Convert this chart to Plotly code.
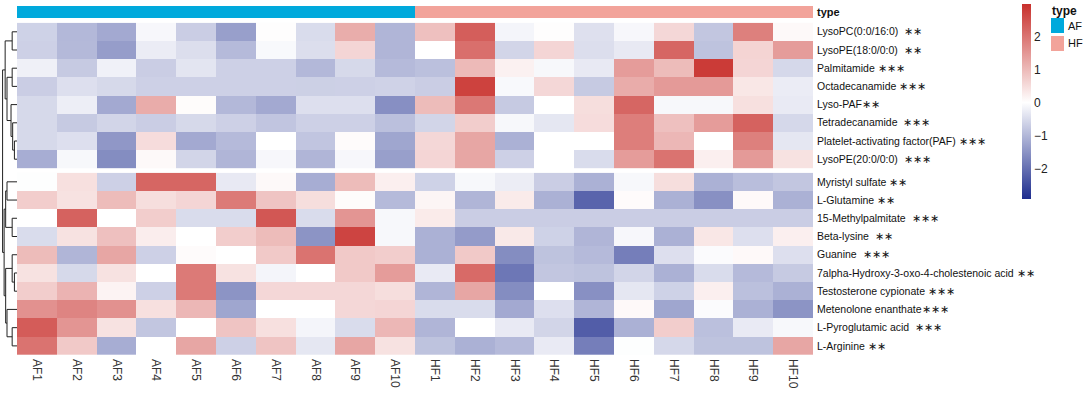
import plotly.graph_objects as go

W, H = 1084, 394

samples = ["AF1", "AF2", "AF3", "AF4", "AF5", "AF6", "AF7", "AF8", "AF9", "AF10",
           "HF1", "HF2", "HF3", "HF4", "HF5", "HF6", "HF7", "HF8", "HF9", "HF10"]
sample_type = ["AF"] * 10 + ["HF"] * 10

NB = "\u00a0"
labels_group1 = [
    "LysoPC(0:0/16:0)" + NB * 2 + "∗∗",
    "LysoPE(18:0/0:0)" + NB * 2 + "∗∗",
    "Palmitamide" + NB + "∗∗∗",
    "Octadecanamide" + NB + "∗∗∗",
    "Lyso-PAF∗∗",
    "Tetradecanamide" + NB * 2 + "∗∗∗",
    "Platelet-activating factor(PAF)" + NB + "∗∗∗",
    "LysoPE(20:0/0:0)" + NB * 2 + "∗∗∗",
]
labels_group2 = [
    "Myristyl sulfate" + NB + "∗∗",
    "L-Glutamine" + NB + "∗∗",
    "15-Methylpalmitate" + NB * 2 + "∗∗∗",
    "Beta-lysine" + NB * 2 + "∗∗",
    "Guanine" + NB * 2 + "∗∗∗",
    "7alpha-Hydroxy-3-oxo-4-cholestenoic acid" + NB + "∗∗",
    "Testosterone cypionate" + NB + "∗∗∗",
    "Metenolone enanthate∗∗∗",
    "L-Pyroglutamic acid" + NB * 2 + "∗∗∗",
    "L-Arginine" + NB + "∗∗",
]

# z-scores, rows x samples (AF1..AF10, HF1..HF10)
z_group1 = [
    [-0.63, -0.99, -1.19, -0.11, -0.69, -1.34, 0.03, -0.49, 1.18, -1.03,
     0.91, 2.32, -0.14, 0.03, -0.43, -0.11, 0.57, -0.79, 1.83, 0.09],
    [-0.65, -0.97, -1.36, -0.26, -0.46, -0.96, -0.09, -0.46, 0.60, -1.03,
     0.00, 2.08, -0.59, 0.60, -0.46, -0.30, 2.20, -0.84, 0.62, 1.43],
    [-0.21, -0.74, -0.19, -0.69, -0.36, -0.65, -0.65, -0.99, -0.53, -0.96,
     -0.88, 1.00, 0.20, -0.10, -0.30, 1.43, 0.97, 2.82, 0.60, -0.54],
    [-0.69, -0.44, -0.53, -0.65, -0.65, -0.65, -0.65, -0.66, -0.65, -0.62,
     -0.69, 2.72, -0.09, 0.57, -0.74, 1.20, 1.46, 1.46, 0.35, -0.26],
    [-0.53, -0.23, -1.19, 1.20, 0.05, -0.99, -1.19, -0.44, -0.44, -1.56,
     0.97, 1.95, -0.74, 0.00, 0.48, 2.20, -0.10, -0.10, 0.45, -0.29],
    [-0.53, -0.74, -0.59, -0.69, -0.53, -0.65, -0.80, -0.65, -0.65, -0.88,
     -0.59, 0.72, -0.10, -0.34, 0.50, 1.86, 0.91, 1.43, 2.26, -0.54],
    [-0.53, -0.44, -1.44, 0.50, -1.19, -0.96, 0.00, -0.80, 0.06, -1.24,
     0.57, 1.28, -1.09, 0.00, 0.00, 1.86, 1.03, 0.00, 1.83, -0.34],
    [-1.14, -0.10, -1.59, 0.09, -0.59, -1.03, -0.11, -1.03, -0.11, -1.34,
     0.60, 1.28, -0.65, 0.00, -0.49, 1.43, 2.02, 0.23, 1.46, 0.42],
]
z_group2 = [
    [-0.02, 0.45, -0.65, 2.20, 2.20, -0.30, 0.09, -1.14, 0.97, 0.23,
     -0.63, -0.10, -0.25, -0.69, -1.09, -0.10, 0.48, -1.09, -0.91, -0.79],
    [0.72, 0.42, 0.97, 0.48, 0.60, 1.92, 0.85, 0.48, 0.05, -0.96,
     0.14, -1.03, 0.29, -1.09, -2.15, 0.06, -1.09, -1.54, 0.08, -1.09],
    [0.00, 2.26, 0.00, 0.72, -0.49, -0.49, 2.42, -0.49, 1.52, -0.10,
     0.29, -0.69, -0.69, -0.69, -0.69, -0.69, -0.69, -0.69, -0.69, -0.69],
    [-0.49, 0.42, 0.91, 0.26, 0.00, 0.72, 0.97, -1.49, 2.69, -0.10,
     -1.09, -1.39, 0.32, -0.63, -1.03, -0.11, -1.09, 0.35, -0.44, 0.23],
    [0.97, -1.03, 1.28, -0.65, 0.06, 0.00, 0.78, 2.02, 0.78, 0.72,
     -1.09, 0.78, -1.59, -0.84, -0.96, -1.79, -0.44, -0.05, 0.08, -0.44],
    [0.42, -0.53, 0.42, 0.00, 1.92, 0.42, -0.14, 0.00, 0.78, 1.43,
     -0.29, 2.14, -1.89, -0.79, -0.84, -0.59, -1.09, -0.49, -0.96, -0.74],
    [0.72, 1.09, 0.17, -0.65, 1.92, -1.49, 0.57, 0.57, 0.57, 0.48,
     -1.03, 1.28, -1.59, 0.00, -1.54, -0.34, -0.63, 0.23, -0.88, -1.09],
    [1.58, 1.77, 1.58, 0.45, 1.03, -1.24, 0.00, 0.00, 0.57, 0.60,
     -0.49, -0.49, -1.19, -0.44, -1.03, 0.08, -1.24, -0.05, -1.09, -1.49],
    [2.35, 1.52, 0.42, -0.79, 0.00, 0.85, 0.45, -0.14, -0.49, 1.03,
     -1.03, 0.00, -0.29, -0.59, -2.25, -1.09, 0.72, -0.88, -0.29, -0.10],
    [2.02, 0.78, -1.14, 0.00, 1.28, -0.65, 0.85, -0.34, 1.28, 0.42,
     -0.84, -1.09, -0.96, -0.29, -1.79, -0.02, -0.54, -0.84, -0.84, 1.28],
]

# row dendrogram: (left, right, height); leaves 0..17, new clusters numbered from 18
linkage = [
    (6, 7, 2.5),     # 18
    (5, 18, 4.2),    # 19
    (4, 19, 5.8),    # 20
    (2, 3, 4.7),     # 21
    (0, 1, 4.7),     # 22
    (21, 20, 9.7),   # 23
    (22, 23, 11.5),  # 24
    (8, 9, 9.7),     # 25
    (10, 11, 4.7),   # 26
    (25, 26, 11.0),  # 27
    (13, 14, 2.5),   # 28
    (12, 28, 4.7),   # 29
    (16, 17, 4.7),   # 30
    (15, 30, 9.7),   # 31
    (29, 31, 11.0),  # 32
    (27, 32, 12.5),  # 33
    (24, 33, 14.0),  # 34
]

zmin, zmax = -2.92, 2.98
mid = (0 - zmin) / (zmax - zmin)
cscale = [[0, "#1e2d8e"], [mid, "#ffffff"], [1, "#c8302c"]]

# layout geometry (pixels from top)
X0, X1 = 17, 813
BAR_T, BAR_B = 6, 18
G1_T, G1_B = 22.7, 168.3
G2_T, G2_B = 172.7, 355.0


def py(px):
    return 1 - px / H


FONT = "Liberation Sans, Arial, sans-serif"

fig = go.Figure()

fig.add_trace(go.Heatmap(
    z=[[0 if t == "AF" else 1 for t in sample_type]], x=list(range(len(samples))), y=[0],
    colorscale=[[0, "#00a9dc"], [0.5, "#00a9dc"], [0.5, "#f2a39a"], [1, "#f2a39a"]],
    zmin=0, zmax=1, showscale=False, xaxis="x", yaxis="y3", hoverinfo="skip"))

fig.add_trace(go.Heatmap(
    z=z_group1, x=list(range(len(samples))), y=list(range(len(labels_group1))),
    colorscale=cscale, zmin=zmin, zmax=zmax, showscale=True,
    xaxis="x", yaxis="y",
    colorbar=dict(thickness=9, lenmode="pixels", len=195, x=1022 / W, xanchor="left",
                  y=py(4.3), yanchor="top", xpad=0, ypad=0, outlinewidth=0,
                  tickvals=[-2, -1, 0, 1, 2], ticks="", ticklen=0,
                  tickfont=dict(size=12, color="#222", family=FONT))))

fig.add_trace(go.Heatmap(
    z=z_group2, x=list(range(len(samples))), y=list(range(len(labels_group2))),
    colorscale=cscale, zmin=zmin, zmax=zmax, showscale=False,
    xaxis="x", yaxis="y2"))

# dendrogram coordinates
n1, n2 = len(labels_group1), len(labels_group2)
rh1 = (G1_B - G1_T) / n1
rh2 = (G2_B - G2_T) / n2
pos = {}
for i in range(n1):
    pos[i] = (0.0, G1_T + rh1 * (i + 0.5))
for i in range(n2):
    pos[n1 + i] = (0.0, G2_T + rh2 * (i + 0.5))
dx, dy = [], []
nid = n1 + n2
for a, b, h in linkage:
    ha, ya = pos[a]
    hb, yb = pos[b]
    dx += [ha, h, h, hb, None]
    dy += [ya, ya, yb, yb, None]
    pos[nid] = (h, (ya + yb) / 2)
    nid += 1
fig.add_trace(go.Scatter(x=dx, y=dy, mode="lines", line=dict(color="#222", width=1),
                         xaxis="x2", yaxis="y4", hoverinfo="skip", showlegend=False))

fig.update_layout(
    width=W, height=H, margin=dict(l=0, r=0, t=0, b=0),
    paper_bgcolor="white", plot_bgcolor="white", showlegend=False,
    font=dict(family=FONT, color="#222"),
    xaxis=dict(domain=[X0 / W, X1 / W], range=[-0.5, len(samples) - 0.5], anchor="y2",
               tickvals=list(range(len(samples))), ticktext=samples, tickangle=90,
               ticks="", showgrid=False, zeroline=False, showline=False,
               ticklabelstandoff=3, tickfont=dict(size=12, color="#333")),
    yaxis=dict(domain=[py(G1_B), py(G1_T)], range=[n1 - 0.5, -0.5], anchor="x", side="right",
               tickvals=list(range(n1)), ticktext=labels_group1, ticks="", ticklabelstandoff=3,
               showgrid=False, zeroline=False, tickfont=dict(size=10.5, color="#111")),
    yaxis2=dict(domain=[py(G2_B), py(G2_T)], range=[n2 - 0.5, -0.5], anchor="x", side="right",
                tickvals=list(range(n2)), ticktext=labels_group2, ticks="", ticklabelstandoff=3,
                showgrid=False, zeroline=False, tickfont=dict(size=10.5, color="#111")),
    yaxis3=dict(domain=[py(BAR_B), py(BAR_T)], range=[-0.5, 0.5], anchor="x", side="right",
                tickvals=[0], ticktext=["<b>type</b>"], ticks="", ticklabelstandoff=3,
                showgrid=False, zeroline=False, tickfont=dict(size=11, color="#111")),
    xaxis2=dict(domain=[0, X0 / W], range=[16.5, 0], visible=False, anchor="y4"),
    yaxis4=dict(domain=[py(G2_B), py(G1_T)], range=[G2_B, G1_T], visible=False, anchor="x2"),
    shapes=[
        dict(type="rect", xref="paper", yref="paper", x0=1051 / W, x1=1064 / W,
             y0=py(33), y1=py(18), fillcolor="#00a9dc", line=dict(width=0)),
        dict(type="rect", xref="paper", yref="paper", x0=1051 / W, x1=1064 / W,
             y0=py(51), y1=py(36), fillcolor="#f2a39a", line=dict(width=0)),
    ],
    annotations=[
        dict(text="<b>type</b>", x=1050 / W, y=py(11), xref="paper", yref="paper",
             xanchor="left", yanchor="middle", showarrow=False, font=dict(size=12, color="#111")),
        dict(text="AF", x=1066 / W, y=py(25.5), xref="paper", yref="paper",
             xanchor="left", yanchor="middle", showarrow=False, font=dict(size=11, color="#111")),
        dict(text="HF", x=1066 / W, y=py(43.5), xref="paper", yref="paper",
             xanchor="left", yanchor="middle", showarrow=False, font=dict(size=11, color="#111")),
    ],
)

fig.write_html("out.html", config={"displayModeBar": False},
               post_script="document.body.style.margin='0px';")
